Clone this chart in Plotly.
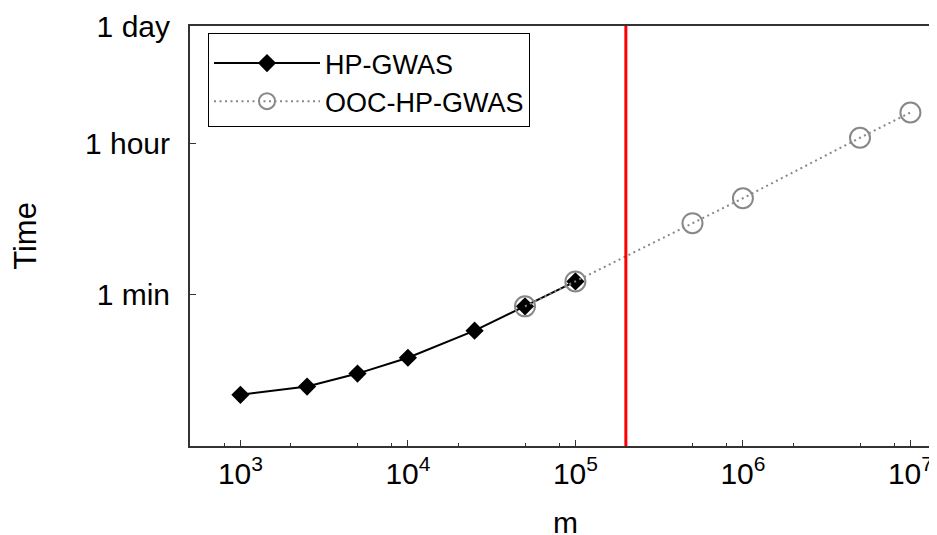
import math
import plotly.graph_objects as go

# Data
m_hp = [1000, 2500, 5000, 10000, 25000, 50000, 100000]
t_hp = [4.0, 5.0, 7.1, 10.9, 22.7, 43.8, 86.0]
m_ooc = [50000, 100000, 500000, 1000000, 5000000, 10000000]
t_ooc = [43.8, 86.0, 416.0, 817.0, 4200.0, 8320.0]
threshold_m = 200000

x_tickvals = [1e3, 1e4, 1e5, 1e6, 1e7]
x_ticktext = ["10<sup>3</sup>", "10<sup>4</sup>", "10<sup>5</sup>", "10<sup>6</sup>", "10<sup>7</sup>"]
x_minor = [8e2, 2e3, 5e3, 8e3, 2e4, 5e4, 8e4, 2e5, 5e5, 8e5, 2e6, 5e6, 8e6]
y_tickvals = [60, 3600, 86400]
y_ticktext = ["1 min", "1 hour", "1 day"]

FONT = "Liberation Sans, Arial, Helvetica, sans-serif"

fig = go.Figure()
fig.add_trace(go.Scatter(
    x=m_hp, y=t_hp, name="HP-GWAS", mode="lines+markers",
    line=dict(color="black", width=2),
    marker=dict(symbol="diamond", size=14, color="black"),
))
fig.add_trace(go.Scatter(
    x=m_ooc, y=t_ooc, name="OOC-HP-GWAS", mode="lines+markers",
    line=dict(color="#888888", width=2, dash="2px,3.5px"),
    marker=dict(symbol="circle-open", size=20, color="#888888", line=dict(width=2, color="#888888")),
))

fig.add_shape(type="line", xref="x", yref="paper", x0=threshold_m, x1=threshold_m, y0=0, y1=1,
              line=dict(color="#ff0000", width=3), layer="above")

# page body has an 8px margin: figure sits at (8, 8) in the window
OFF = 8
W, H = 937 - OFF, 535 - OFF
L, R, T, B = 190 - OFF, 0, 25.5 - OFF, 535 - 446.5
PW = W - L - R
PH = H - B - T

fig.update_layout(
    width=W, height=H,
    margin=dict(l=L, r=R, t=T, b=B, autoexpand=False),
    paper_bgcolor="white", plot_bgcolor="white",
    font=dict(family=FONT, size=28, color="black"),
    showlegend=True,
    legend=dict(
        x=(208 - 190) / PW, y=1 - (32.3 - 25.5) / PH,
        xanchor="left", yanchor="top",
        bordercolor="black", borderwidth=1, bgcolor="white",
        font=dict(size=27), itemwidth=106, tracegroupgap=0,
        title=dict(text=" ", font=dict(size=4)),
    ),
)

# x-axis title placed just above the bottom edge, centred on the plot area
fig.add_annotation(text="m", xref="paper", yref="paper", x=(565 - 190) / PW, y=0,
                   xanchor="center", yanchor="middle", yshift=-76, showarrow=False,
                   font=dict(family=FONT, size=30, color="black"))

fig.update_xaxes(
    type="log", range=[math.log10(500), math.log10(500) + PW / 167.5],
    tickvals=x_tickvals, ticktext=x_ticktext,
    ticks="inside", ticklen=6, tickwidth=1, tickcolor="#333",
    showline=True, linecolor="#333", linewidth=2, mirror=True,
    showgrid=False, zeroline=False,
    minor=dict(tickvals=x_minor, ticks="inside", ticklen=3, tickcolor="#333", showgrid=False),
    tickfont=dict(size=30),
)
fig.update_yaxes(
    type="log", range=[0, math.log10(86400) + 0.0005],
    tickvals=y_tickvals, ticktext=y_ticktext,
    ticks="inside", ticklen=6, tickwidth=1, tickcolor="#333",
    showline=True, linecolor="#333", linewidth=2, mirror=False,
    showgrid=False, zeroline=False,
    title=dict(text="Time", font=dict(size=31), standoff=44),
    tickfont=dict(size=30), ticklabelstandoff=12,
)

fig.write_html("out.html")
